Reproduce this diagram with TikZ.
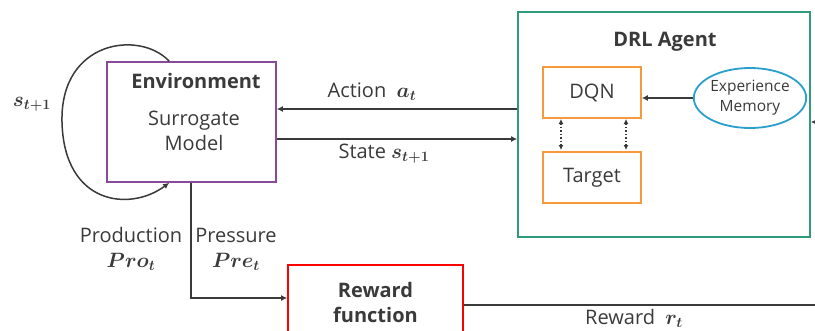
\documentclass[tikz,border=0pt]{standalone}
\usepackage{fontspec}
\usepackage{amsmath,bm}
\setmainfont{Open Sans}
\usetikzlibrary{arrows.meta,positioning,shapes.geometric}
\definecolor{envpurple}{HTML}{8B4A99}
\definecolor{agentgreen}{HTML}{2E9B7E}
\definecolor{netorange}{HTML}{F5993C}
\definecolor{memblue}{HTML}{2A9FCC}
\definecolor{txtgray}{HTML}{3A3A3A}
\newcommand{\mlab}[1]{{\fontsize{22}{25}\selectfont\boldmath$\bm{#1}$}}
\tikzset{
  envbox/.style={draw=envpurple,line width=1.7pt,minimum width=169pt,minimum height=120pt},
  agentbox/.style={draw=agentgreen,line width=1.7pt,minimum width=292pt,minimum height=225pt},
  netbox/.style={draw=netorange,line width=1.6pt,minimum width=98pt,minimum height=51pt},
  membox/.style={ellipse,draw=memblue,line width=1.8pt,minimum width=106pt,minimum height=60pt,
    inner sep=0pt,align=center,font=\fontsize{15.5}{20}\selectfont},
  rewbox/.style={draw=red,line width=1.7pt,minimum width=175pt,minimum height=80pt},
  flow/.style={-{Latex[length=6pt,width=6pt]},line width=1.5pt,draw=txtgray},
  syncArrow/.style={{Latex[length=5pt,width=5pt]}-{Latex[length=5pt,width=5pt]},line width=1.4pt,
    dotted,draw=txtgray},
  lbl/.style={font=\fontsize{20}{25}\selectfont,align=center}
}

\begin{document}
\begin{tikzpicture}[x=1pt,y=-1pt,every node/.style={text=txtgray,font=\fontsize{20}{25}\selectfont}]
  \useasboundingbox (0,0) rectangle (815,330);
  % boxes
  \node[envbox] (env) at (191.5,122) {};
  \node[font=\fontsize{20}{25}\selectfont\bfseries] (envtitle) at (196,81) {Environment};
  \node[lbl] (envtext) at (194,131) {Surrogate\\Model};
  \node[agentbox] (agent) at (664,124.5) {};
  \node[font=\fontsize{20}{25}\selectfont\bfseries] (agenttitle) at (665,42) {DRL Agent};
  \node[netbox] (dqn) at (592,92.5) {DQN};
  \node[netbox] (target) at (592,177.5) {Target};
  \node[membox] (mem) at (750,98) {Experience\\Memory};
  \node[rewbox] (reward) at (375.5,305) {};
  \node[lbl,font=\fontsize{20}{25}\selectfont\bfseries] (rewtext) at (375.5,302) {Reward\\function};
  % loop back into the environment
  \draw[flow] (env.north west) ++(63,0) coordinate (lps)
    .. controls (140,30) and (60,40) .. (62,122)
    .. controls (64,205) and (130,212) .. (env.south west -| lps);
  \node (loopl) at (32,104) {\mlab{s_{t+1}}};
  % action / state
  \draw[flow] (agent.west |- 0,109) -- (env.east |- 0,109);
  \draw[flow] (env.east |- 0,139) -- (agent.west |- 0,139);
  \node (actl) at (372,92) {Action\ \ \mlab{a_t}};
  \node (statel) at (384,154) {State \mlab{s_{t+1}}};
  % inside the agent
  \draw[flow] (mem.west) -- (dqn.east |- mem.west);
  \foreach \x in {561,626}
    \draw[syncArrow] (\x,119) -- (\x,150);
  \coordinate (rin) at (830,122);
  \draw[flow] (rin) -- (rin -| agent.east);
  % to the reward function
  \coordinate (bend) at (191,298);
  \draw[flow] (env.south -| bend) -- (bend) -- (reward.west |- bend);
  \node[lbl] (prodl) at (131,249) {Production\\\mlab{Pro_t}};
  \node[lbl] (presl) at (236,249) {Pressure\\\mlab{Pre_t}};
  \coordinate (rout) at (830,305);
  \draw[line width=1.5pt,draw=txtgray] (reward.east) -- (rout);
  \node (rewl) at (634,318) {Reward\ \ \mlab{r_t}};
\end{tikzpicture}
\end{document}
